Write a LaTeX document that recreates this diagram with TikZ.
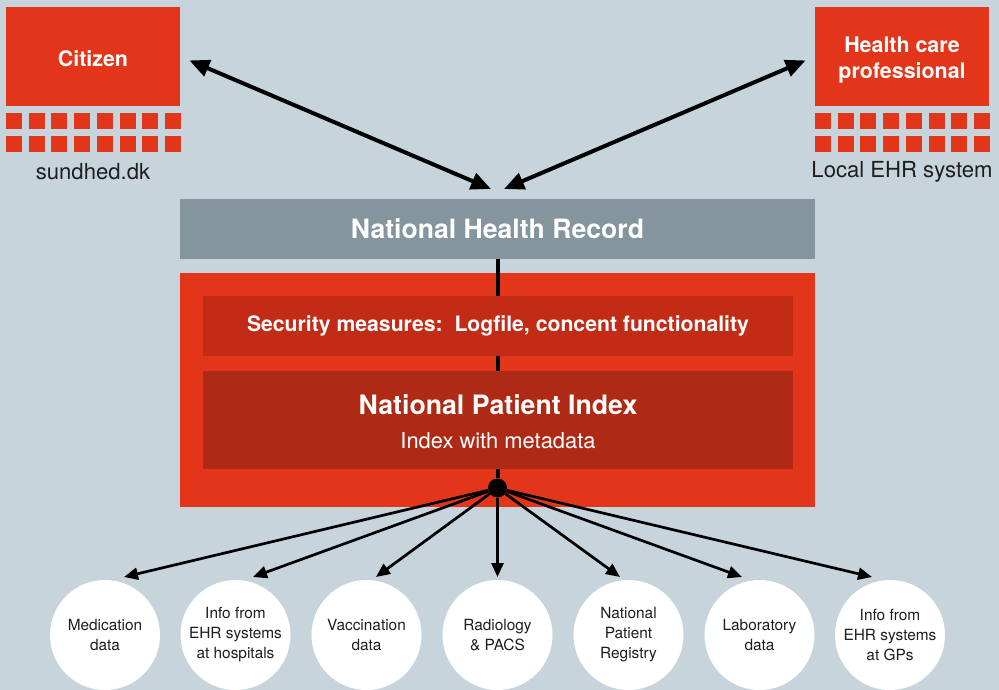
\documentclass[tikz,border=0pt]{standalone}
\usepackage{fontspec}
\setmainfont{TeX Gyre Heros}
\usetikzlibrary{arrows.meta}
\definecolor{bgblue}{HTML}{C8D4DB}
\definecolor{brred}{HTML}{E3351A}
\definecolor{midred}{HTML}{C22C17}
\definecolor{deepred}{HTML}{AF2A15}
\definecolor{nhrgray}{HTML}{85959D}
\definecolor{txtgray}{HTML}{1E1E1E}
\begin{document}
\begin{tikzpicture}[x=1pt, y=-1pt,
  redbox/.style={fill=brred, minimum width=174pt, minimum height=99pt, inner sep=0pt},
  boxtext/.style={text=white, inner sep=0pt, align=center, font=\fontsize{21.4}{26}\selectfont\bfseries},
  sq/.style={fill=brred, minimum size=16pt, inner sep=0pt},
  sidetext/.style={text=txtgray, inner sep=0pt, font=\fontsize{22.1}{24}\selectfont},
  datacirc/.style={circle, fill=white, minimum size=110pt, inner sep=0pt, align=center, text=txtgray, font=\fontsize{15.4}{20}\selectfont},
  biarrow/.style={{Triangle[length=20pt,width=17pt]}-{Triangle[length=20pt,width=17pt]}, line width=4pt},
  fanarrow/.style={-{Triangle[length=14pt,width=12pt]}, line width=2.7pt}]
\useasboundingbox (0,0) rectangle (999,690);
\fill[bgblue] (0,0) rectangle (999,690);
% users on top
\node[redbox] (cit) at (93,56.5) {};
\node[redbox] (hcp) at (902,56.5) {};
\node[boxtext] (citt) at (93,58.5) {Citizen};
\node[boxtext] (hcpt) at (902,60) {Health care\\professional};
\node[sq] (sq0) at (14,121){};
\node[sq] (sq1) at (36.7,121){};
\node[sq] (sq2) at (59.4,121){};
\node[sq] (sq3) at (82.1,121){};
\node[sq] (sq4) at (104.8,121){};
\node[sq] (sq5) at (127.5,121){};
\node[sq] (sq6) at (150.2,121){};
\node[sq] (sq7) at (172.9,121){};
\node[sq] (sq8) at (14,144){};
\node[sq] (sq9) at (36.7,144){};
\node[sq] (sq10) at (59.4,144){};
\node[sq] (sq11) at (82.1,144){};
\node[sq] (sq12) at (104.8,144){};
\node[sq] (sq13) at (127.5,144){};
\node[sq] (sq14) at (150.2,144){};
\node[sq] (sq15) at (172.9,144){};
\node[sq] (sq16) at (823,121){};
\node[sq] (sq17) at (845.7,121){};
\node[sq] (sq18) at (868.4,121){};
\node[sq] (sq19) at (891.1,121){};
\node[sq] (sq20) at (913.8,121){};
\node[sq] (sq21) at (936.5,121){};
\node[sq] (sq22) at (959.2,121){};
\node[sq] (sq23) at (981.9,121){};
\node[sq] (sq24) at (823,144){};
\node[sq] (sq25) at (845.7,144){};
\node[sq] (sq26) at (868.4,144){};
\node[sq] (sq27) at (891.1,144){};
\node[sq] (sq28) at (913.8,144){};
\node[sq] (sq29) at (936.5,144){};
\node[sq] (sq30) at (959.2,144){};
\node[sq] (sq31) at (981.9,144){};
\node[sidetext] (sund) at (93,172) {sundhed.dk};
\node[sidetext] (ehr) at (902,172) {Local EHR system};
% central record
\node[fill=nhrgray, minimum width=635pt, minimum height=60pt, inner sep=0pt, text=white, font=\fontsize{26.6}{30}\selectfont\bfseries] (nhr) at (497.5,229) {National Health Record};
\coordinate (nhrL) at (491,189);
\coordinate (nhrR) at (504,189);
\draw[biarrow, shorten <=10pt] (cit.east) -- (nhrL);
\draw[biarrow, shorten <=10pt] (hcp.west) -- (nhrR);
\node[fill=brred, minimum width=635pt, minimum height=234pt, inner sep=0pt] (npo) at (497.5,390) {};
\node[circle, fill=black, minimum size=19pt, inner sep=0pt] (hub) at (497.5,488) {};
\draw[line width=4pt] (nhr.south) -- (hub);
\node[fill=midred, minimum width=590pt, minimum height=60pt, inner sep=0pt, text=white, font=\fontsize{21.2}{24}\selectfont\bfseries] (sec) at (498,326) {Security measures:\ \ Logfile, concent functionality};
\node[fill=deepred, minimum width=590pt, minimum height=98pt, inner sep=0pt] (npi) at (498,420) {};
\node[text=white, inner sep=0pt, font=\fontsize{26.7}{30}\selectfont\bfseries] (npit) at (498,405) {National Patient Index};
\node[text=white, inner sep=0pt, font=\fontsize{21.9}{24}\selectfont] (npis) at (498,441) {Index with metadata};
% data sources
\node[datacirc] (dat0) at (105,635) {Medication\\data};
\node[datacirc] (dat1) at (235.5,635) {Info from\\EHR systems\\at hospitals};
\node[datacirc] (dat2) at (366.5,635) {Vaccination\\data};
\node[datacirc] (dat3) at (497.5,635) {Radiology\\\& PACS};
\node[datacirc] (dat4) at (628.5,635) {National\\Patient\\Registry};
\node[datacirc] (dat5) at (759.5,635) {Laboratory\\data};
\node[datacirc] (dat6) at (890,635) {Info from\\EHR systems\\at GPs};
\coordinate (end0) at (124,577);
\coordinate (end1) at (253,577);
\coordinate (end2) at (376,577);
\coordinate (end3) at (497.5,577);
\coordinate (end4) at (620,577);
\coordinate (end5) at (742,577);
\coordinate (end6) at (872,577);
\draw[fanarrow] (hub) -- (end0);
\draw[fanarrow] (hub) -- (end1);
\draw[fanarrow] (hub) -- (end2);
\draw[fanarrow] (hub) -- (end3);
\draw[fanarrow] (hub) -- (end4);
\draw[fanarrow] (hub) -- (end5);
\draw[fanarrow] (hub) -- (end6);
\end{tikzpicture}
\end{document}
